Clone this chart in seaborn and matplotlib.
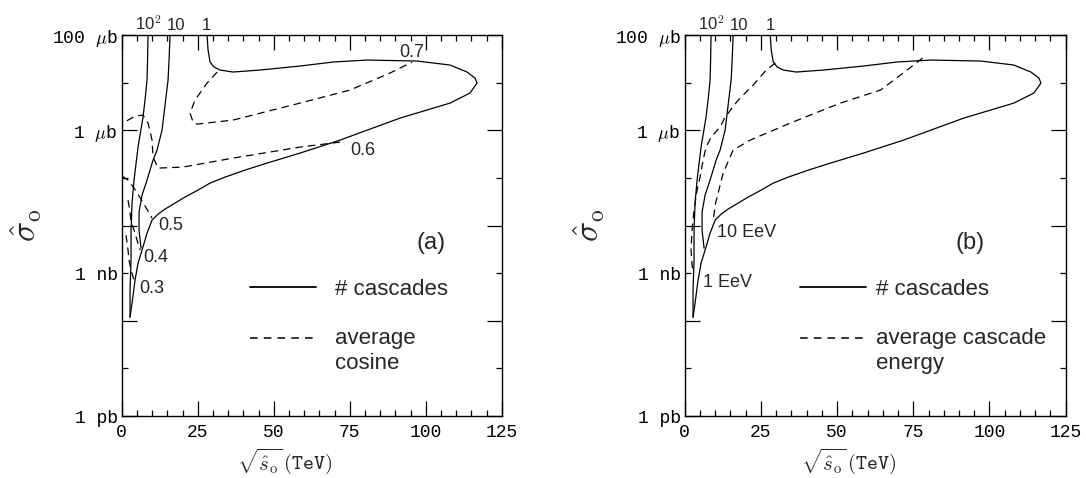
import numpy as np
import pandas as pd
import matplotlib
matplotlib.use("Agg")
import matplotlib.pyplot as plt
from matplotlib.lines import Line2D
from matplotlib.legend_handler import HandlerLine2D
from matplotlib.ticker import FixedLocator, NullFormatter
import seaborn as sns

# ---------------- data (x in TeV, y as log10 of cross-section in microbarn) ----------
# "# cascades" contours (same in both panels)
casc100_x = [8.65, 8.49, 8.32, 7.66, 7.0, 5.36, 4.05, 3.39, 3.06, 3.06, 2.73, 2.73]
casc100_y = [2.0, 1.475, 1.055, 0.634, 0.277, -0.353, -1.046, -1.529, -2.097, -2.727, -3.357, -3.924]
casc10_x = [15.89, 15.56, 15.23, 14.24, 13.26, 11.61, 10.3, 8.32, 6.68, 5.69, 5.69, 6.35]
casc10_y = [2.0, 1.475, 1.055, 0.529, 0.004, -0.416, -0.626, -1.046, -1.361, -1.718, -2.097, -2.475]
casc1_x = [28.06, 28.39, 29.05, 30.36, 32.34, 36.61, 45.49, 58.65, 69.51, 80.69, 97.14, 107.99,
           113.59, 116.22, 116.88, 114.57, 107.99, 91.55, 71.81, 58.65, 47.8, 40.56, 33.98,
           29.05, 25.1, 20.82, 17.53, 14.24, 11.94, 9.97, 8.32, 6.68, 5.36, 4.38, 3.39, 2.73]
casc1_y = [2.0, 1.685, 1.433, 1.328, 1.265, 1.223, 1.265, 1.349, 1.433, 1.475, 1.454, 1.370,
           1.223, 1.097, 0.992, 0.782, 0.571, 0.256, -0.206, -0.479, -0.689, -0.836, -0.983,
           -1.109, -1.256, -1.403, -1.529, -1.655, -1.761, -1.887, -2.160, -2.517, -2.790,
           -3.147, -3.630, -3.924]
casc_levels = ["10$^2$", "10", "1"]
casc_label_x = [8.6, 17.9, 28.0]

# (a) average cosine contours
cos07_x = [31.41, 28.06, 24.11, 22.47, 23.45, 24.77, 36.61, 58.65, 75.1, 88.26, 95.49]
cos07_y = [1.223, 0.992, 0.634, 0.361, 0.172, 0.130, 0.214, 0.571, 0.845, 1.202, 1.433]
cos06_x = [71.81, 58.65, 36.61, 20.16, 11.94, 10.30, 9.97, 8.65, 7.0, 4.38, 2.07, 0.0]
cos06_y = [-0.248, -0.353, -0.584, -0.773, -0.794, -0.563, -0.206, 0.151, 0.319, 0.298, 0.214, 0.109]
cos05_x = [0.1, 2.07, 4.05, 6.35, 8.65, 9.97]
cos05_y = [-0.962, -1.046, -1.214, -1.445, -1.697, -1.845]
cos04_x = [2.07, 2.73, 3.06, 4.05, 5.03, 6.02]
cos04_y = [-1.466, -1.718, -1.929, -2.097, -2.307, -2.517]
cos03_x = [1.41, 2.07, 2.4, 3.06, 4.05]
cos03_y = [-2.202, -2.517, -2.727, -2.937, -3.147]
cos_labels = ["0.7", "0.6", "0.5", "0.4", "0.3"]
cos_label_x = [95.5, 79.4, 11.9, 7.0, 5.7]
cos_label_y = [1.643, -0.416, -1.992, -2.664, -3.315]

# (b) average cascade energy contours
en10_x = [78.06, 70.82, 64.24, 51.09, 34.64, 21.48, 15.89, 12.6, 10.63, 9.97, 9.5]
en10_y = [1.517, 1.160, 0.845, 0.571, 0.151, -0.206, -0.416, -0.899, -1.403, -1.571, -1.824]
en1_x = [29.7, 26.74, 22.47, 17.53, 13.26, 11.61, 8.65, 7.0, 6.02, 5.03, 4.05, 3.06, 2.4, 2.07, 2.4, 2.73]
en1_y = [1.412, 1.265, 0.950, 0.634, 0.277, 0.067, -0.143, -0.353, -0.626, -0.983, -1.256,
         -1.676, -2.097, -2.517, -2.832, -2.979]
en_labels = ["10 EeV", "1 EeV"]
en_label_x = [10.6, 6.0]
en_label_y = [-2.139, -3.189]

xticks_major = [0, 25, 50, 75, 100, 125]
ytick_major = [1e2, 1e0, 1e-2, 1e-4, 1e-6]
ytick_major_lbl = ["100 $\\mu$b", "1 $\\mu$b", "", "", "1 pb"]
ytick_minor = [1e1, 1e-1, 1e-3, 1e-5]
ytick_minor_lbl = ["", "", "1 nb", ""]

# ---------------- style ----------------
sns.set_style("ticks")
plt.rcParams["font.family"] = ["Liberation Mono", "DejaVu Sans"]
plt.rcParams["mathtext.fontset"] = "cm"
plt.rcParams["axes.linewidth"] = 1.0
SANS = ["Liberation Sans", "DejaVu Sans"]
LW = 0.9
DASH = (0, (6, 4))


class RaisedHandler(HandlerLine2D):
    """Put the legend key on the first line of a two-line label."""
    def create_artists(self, legend, orig_handle, xdescent, ydescent, width, height,
                       fontsize, trans):
        return super().create_artists(legend, orig_handle, xdescent,
                                      ydescent - 1.18 * fontsize, width, height,
                                      fontsize, trans)


def curve(ax, xs, ys, dashed=False):
    df = pd.DataFrame({"x": xs, "y": np.power(10.0, ys)})
    sns.lineplot(data=df, x="x", y="y", sort=False, estimator=None, color="black",
                 linewidth=LW, linestyle=DASH if dashed else "-", ax=ax)


def setup(ax):
    ax.set_yscale("log")
    ax.set_xlim(0, 125)
    ax.set_ylim(1e-6, 1e2)
    ax.xaxis.set_major_locator(FixedLocator(xticks_major))
    ax.xaxis.set_minor_locator(FixedLocator(np.arange(0, 126, 5)))
    ax.xaxis.set_minor_formatter(NullFormatter())
    ax.set_xticklabels([str(v) for v in xticks_major])
    ax.yaxis.set_major_locator(FixedLocator(ytick_major))
    ax.yaxis.set_minor_locator(FixedLocator(ytick_minor))
    ax.set_yticklabels(ytick_major_lbl)
    ax.set_yticklabels(ytick_minor_lbl, minor=True)
    ax.tick_params(which="both", direction="in", top=True, right=True, colors="black",
                   labelsize=13)
    ax.tick_params(which="major", length=10.5, width=0.9)
    ax.tick_params(which="minor", length=4.5, width=0.9)
    ax.tick_params(axis="x", which="both", pad=6)
    ax.tick_params(axis="y", which="both", pad=3)
    for s in ax.spines.values():
        s.set_color("black")
        s.set_linewidth(1.0)
    ax.set_xlabel(r"$\sqrt{\hat{s}_{\rm o}}\,\mathtt{(TeV)}$", fontsize=15)
    ax.xaxis.label.set_va("center")
    ax.xaxis.set_label_coords(0.43, -0.118)
    ax.set_ylabel(r"$\hat{\sigma}_{\rm o}$", fontsize=24)
    ax.yaxis.set_label_coords(-0.205, 0.5)
    for lbl, lx in zip(casc_levels, casc_label_x):
        ax.text(lx, 1.013, lbl, transform=ax.get_xaxis_transform(), ha="center",
                va="baseline", fontsize=12, family=SANS)
    curve(ax, casc100_x, casc100_y)
    curve(ax, casc10_x, casc10_y)
    curve(ax, casc1_x, casc1_y)


fig = plt.figure(figsize=(10.86, 4.78), dpi=100)
axa = fig.add_axes([0.1121, 0.1297, 0.3499, 0.797])
axb = fig.add_axes([0.6305, 0.1297, 0.3508, 0.797])

# panel (a)
setup(axa)
for xs, ys in [(cos07_x, cos07_y), (cos06_x, cos06_y), (cos05_x, cos05_y),
               (cos04_x, cos04_y), (cos03_x, cos03_y)]:
    curve(axa, xs, ys, dashed=True)
for t, lx, ly in zip(cos_labels, cos_label_x, cos_label_y):
    ha = "center" if t in ("0.7", "0.6") else "left"
    axa.text(lx, 10 ** ly, t, ha=ha, va="center", fontsize=13, family=SANS)
axa.text(0.813, 0.454, "(a)", transform=axa.transAxes, ha="center", va="center",
         fontsize=17, family=SANS)

# panel (b)
setup(axb)
curve(axb, en10_x, en10_y, dashed=True)
curve(axb, en1_x, en1_y, dashed=True)
for t, lx, ly in zip(en_labels, en_label_x, en_label_y):
    axb.text(lx, 10 ** ly, t, ha="left", va="center", fontsize=13, family=SANS)
axb.text(0.748, 0.454, "(b)", transform=axb.transAxes, ha="center", va="center",
         fontsize=17, family=SANS)

# legends
for ax, lab2, x0, pad in [(axa, "average\ncosine", 0.337, 0.85), (axb, "average cascade\nenergy", 0.302, 0.45)]:
    h1 = Line2D([], [], color="black", lw=1.3)
    h2 = Line2D([], [], color="black", lw=1.1, linestyle=(0, (5, 4)))
    ax.legend(handles=[h1, h2], labels=["# cascades", lab2],
              handler_map={h2: RaisedHandler()}, loc="upper left",
              bbox_to_anchor=(x0, 0.3595), frameon=False,
              prop={"family": SANS, "size": 16}, handlelength=3.0,
              handletextpad=pad, labelspacing=1.28, borderpad=0, borderaxespad=0)

fig.savefig("out.png", dpi=100, facecolor="white")
